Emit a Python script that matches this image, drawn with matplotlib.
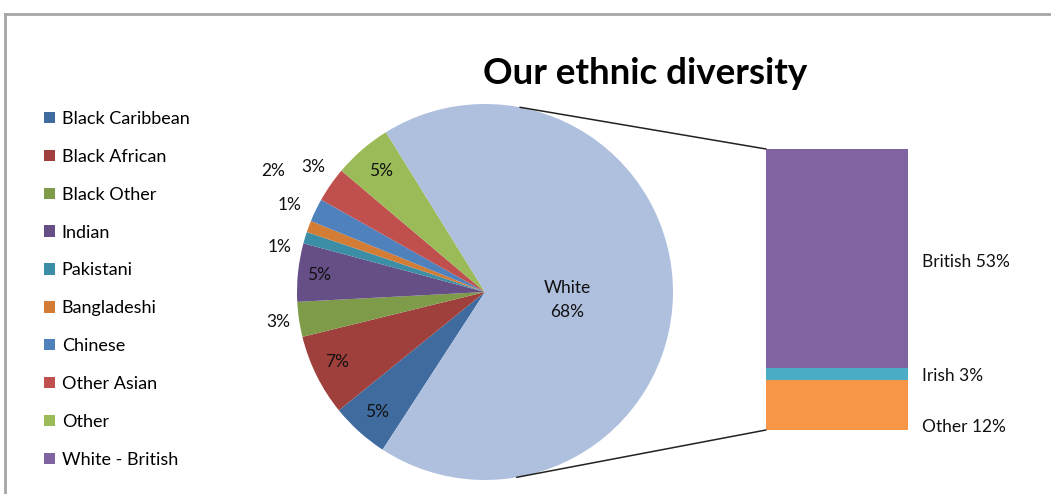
import numpy as np
import matplotlib.pyplot as plt
from matplotlib.patches import Patch, ConnectionPatch
from matplotlib.lines import Line2D

plt.rcParams['font.family'] = ['Lato', 'DejaVu Sans']

# pie data (White is split out in the bar)
pie_labels = ["Black Caribbean", "Black African", "Black Other", "Indian", "Pakistani",
              "Bangladeshi", "Chinese", "Other Asian", "Other", "White"]
pie_values = [5, 7, 3, 5, 1, 1, 2, 3, 5, 68]
pie_colors = ["#3F6B9F", "#A0403D", "#7D9B48", "#654F86", "#3B8EA5",
              "#D27C36", "#4F81BD", "#C0504D", "#9BBB59", "#AFC0DF"]

# breakdown of White (bottom to top)
bar_labels = ["Other", "Irish", "British"]
bar_values = [12, 3, 53]
bar_colors = ["#F79646", "#4BACC6", "#8064A2"]

fig = plt.figure(figsize=(10.51, 4.94), dpi=100)
ax = fig.add_axes([0, 0, 1, 1])

cx, cy, r = 485, 202, 188
wedges, _ = ax.pie(pie_values, colors=pie_colors, startangle=237, counterclock=False,
                   center=(cx, cy), radius=r, wedgeprops=dict(linewidth=0))
ax.set_xlim(0, 1051)
ax.set_ylim(0, 494)
ax.axis('off')

# label radius factor and angle nudge for each slice
lab_r = [0.86, 0.87, 1.11, 0.89, 1.12, 1.14, 1.30, 1.13, 0.85, 0.44]
lab_da = [0, -1, 0, 0, 4.4, -3.6, -4, -1.4, 0, -5]
for w, v, name, fr, da in zip(wedges, pie_values, pie_labels, lab_r, lab_da):
    ang = np.deg2rad((w.theta1 + w.theta2) / 2 + da)
    txt = f"{v}%" if name != "White" else f"White\n{v}%"
    ax.text(cx + fr * r * np.cos(ang), cy + fr * r * np.sin(ang), txt,
            ha='center', va='center', fontsize=12.5, color='#111111', linespacing=1.6)

ax.text(645, 420, "Our ethnic diversity", ha='center', va='center',
        fontsize=26.5, fontweight='bold', color='black')

# stacked bar for White
ax2 = fig.add_axes([766 / 1051, 64 / 494, 142 / 1051, 281 / 494])
bottoms = np.cumsum([0] + bar_values[:-1])
ax2.bar(0, bar_values, bottom=bottoms, width=1, color=bar_colors, linewidth=0)
ax2.set_xlim(-0.5, 0.5)
ax2.set_ylim(0, sum(bar_values))
ax2.axis('off')
lab_dy = [-5.3, -0.4, -0.8]
for b, v, name, dy in zip(bottoms, bar_values, bar_labels, lab_dy):
    ax2.text(1.1, b + v / 2 + dy, f"{name} {v}%", transform=ax2.get_yaxis_transform(),
             ha='left', va='center', fontsize=12.5, color='#111111')

# connector lines
for a, yb in [(79.3, sum(bar_values)), (-80.3, 0)]:
    t = np.deg2rad(a)
    con = ConnectionPatch(xyA=(cx + r * np.cos(t), cy + r * np.sin(t)), coordsA=ax.transData,
                          xyB=(-0.5, yb), coordsB=ax2.transData, color='#222222', lw=1.1)
    fig.add_artist(con)

# legend
leg_labels = pie_labels[:-1] + ["White - British"]
leg_colors = pie_colors[:-1] + [bar_colors[2]]
handles = [Patch(facecolor=c, edgecolor='none') for c in leg_colors]
fig.legend(handles, leg_labels, loc='upper left', bbox_to_anchor=(44 / 1051, 1 - 111 / 494),
           frameon=False, borderpad=0, borderaxespad=0, fontsize=13,
           handlelength=0.6, handleheight=0.6, handletextpad=0.38, labelspacing=1.21)

# chart frame
fig.add_artist(Line2D([4.5 / 1051, 1], [1 - 14.5 / 494, 1 - 14.5 / 494], color='#A6A6A6', lw=2))
fig.add_artist(Line2D([4.5 / 1051, 4.5 / 1051], [0, 1 - 14.5 / 494], color='#A6A6A6', lw=2))

fig.savefig("out.png", dpi=100)
